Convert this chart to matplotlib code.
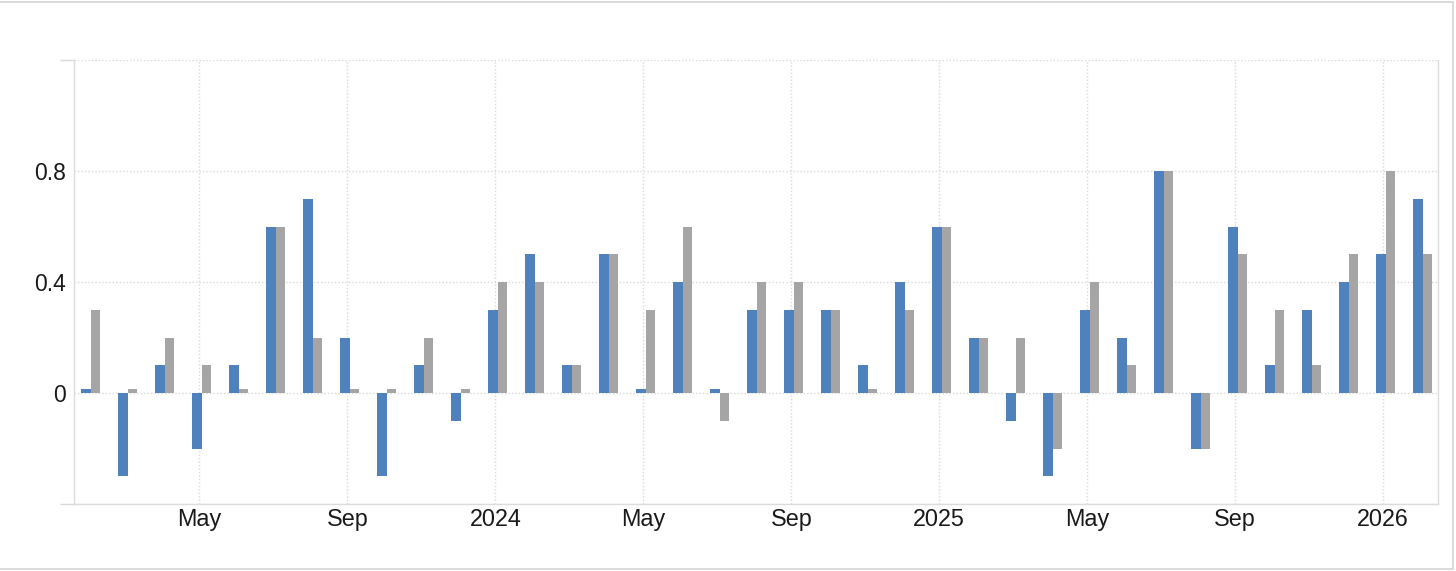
import numpy as np
import matplotlib
matplotlib.use('Agg')
import matplotlib.pyplot as plt
from matplotlib.patches import Rectangle

# Colors
BLUE = '#4f81bd'
GRAY = '#a5a5a5'
GRID = '#d9d9d9'
TEXT = '#1a1a1a'

# Monthly values, Feb 2023 .. Feb 2026
months = ['2023-02', '2023-03', '2023-04', '2023-05', '2023-06', '2023-07', '2023-08',
          '2023-09', '2023-10', '2023-11', '2023-12', '2024-01', '2024-02', '2024-03',
          '2024-04', '2024-05', '2024-06', '2024-07', '2024-08', '2024-09', '2024-10',
          '2024-11', '2024-12', '2025-01', '2025-02', '2025-03', '2025-04', '2025-05',
          '2025-06', '2025-07', '2025-08', '2025-09', '2025-10', '2025-11', '2025-12',
          '2026-01', '2026-02']
blue_vals = [0.0, -0.3, 0.1, -0.2, 0.1, 0.6, 0.7, 0.2, -0.3, 0.1, -0.1, 0.3, 0.5,
             0.1, 0.5, 0.0, 0.4, 0.0, 0.3, 0.3, 0.3, 0.1, 0.4, 0.6, 0.2, -0.1, -0.3,
             0.3, 0.2, 0.8, -0.2, 0.6, 0.1, 0.3, 0.4, 0.5, 0.7]
gray_vals = [0.3, 0.0, 0.2, 0.1, 0.0, 0.6, 0.2, 0.0, 0.0, 0.2, 0.0, 0.4, 0.4,
             0.1, 0.5, 0.3, 0.6, -0.1, 0.4, 0.4, 0.3, 0.0, 0.3, 0.6, 0.2, 0.2, -0.2,
             0.4, 0.1, 0.8, -0.2, 0.5, 0.3, 0.1, 0.5, 0.8, 0.5]
tick_months = ['2023-05', '2023-09', '2024-01', '2024-05', '2024-09', '2025-01',
               '2025-05', '2025-09', '2026-01']
tick_labels = ['May', 'Sep', '2024', 'May', 'Sep', '2025', 'May', 'Sep', '2026']

plt.rcParams['font.family'] = ['Liberation Sans', 'DejaVu Sans']

x = np.arange(len(months))
w = 0.265
off = 0.065
stub = 0.015  # zero values still show a thin sliver


def shown(vals):
    v = np.array(vals, dtype=float)
    return np.where(v == 0, stub, v)


fig = plt.figure(figsize=(14.56, 5.71), dpi=100)
ax = fig.add_axes([74 / 1456, 1 - 504 / 571, (1438 - 74) / 1456, (504 - 60) / 571])

ax.bar(x + off - w / 2, shown(blue_vals), width=w, color=BLUE, zorder=3)
ax.bar(x + off + w / 2, shown(gray_vals), width=w, color=GRAY, zorder=3)

ax.set_xlim(-0.386, 36.48)
ax.set_ylim(-0.4, 1.2)

xt = [months.index(m) for m in tick_months]
ax.set_xticks(xt)
ax.set_xticklabels(tick_labels, fontsize=16.8, color=TEXT)
ax.tick_params(axis='x', length=0, pad=3)

ax.set_yticks([0, 0.4, 0.8])
ax.set_yticklabels(['0', '0.4', '0.8'], fontsize=16.5, color=TEXT)
ax.set_yticks([-0.4, 1.2], minor=True)
ax.tick_params(axis='y', which='major', length=0, pad=6)
ax.tick_params(axis='y', which='minor', length=10, width=1, color=GRID)

ax.grid(True, which='both', color=GRID, linestyle=(0, (1, 1.5)), linewidth=1, zorder=0)

for s in ['left', 'bottom', 'right']:
    ax.spines[s].set_color('#dcdcdc')
    ax.spines[s].set_linewidth(1)
ax.spines['top'].set_visible(False)

# outer frame of the panel
fig.patches.append(Rectangle((-0.01, 1 - 569 / 571), 1453 / 1456 + 0.01, 567 / 571,
                             transform=fig.transFigure, fill=False,
                             edgecolor='#d4d4d4', linewidth=1.2))

fig.savefig('out.png', dpi=100)
